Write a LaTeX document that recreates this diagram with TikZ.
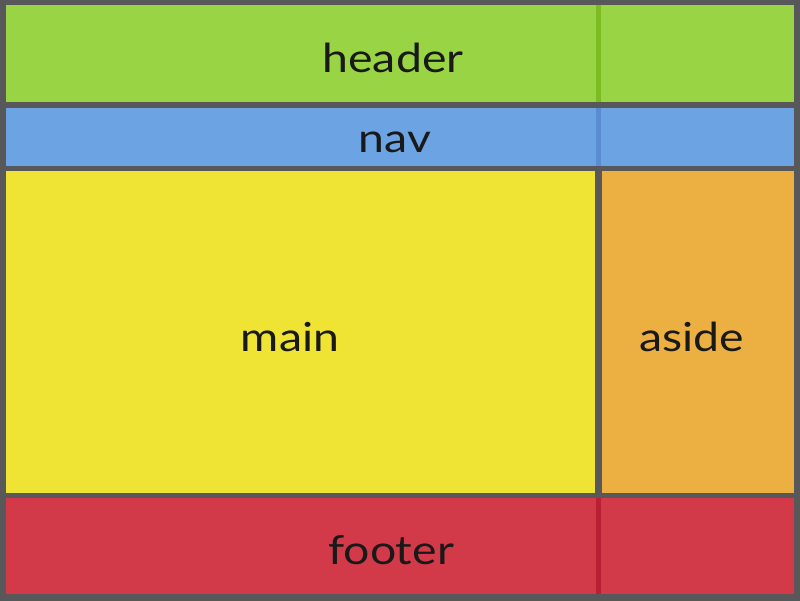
\documentclass[tikz,border=0pt]{standalone}
\usepackage{fontspec}
\setmainfont{Lato}
\definecolor{gridgrey}{HTML}{58585A}
\definecolor{headgreen}{HTML}{98D443}
\definecolor{headline}{HTML}{7CBB22}
\definecolor{navblue}{HTML}{6CA3E3}
\definecolor{navline}{HTML}{5A8CD2}
\definecolor{mainyellow}{HTML}{EFE434}
\definecolor{asideorange}{HTML}{ECB042}
\definecolor{footred}{HTML}{D23A4A}
\definecolor{footline}{HTML}{BA2033}
\tikzset{
  area/.style={draw=none},
  label/.style={font=\fontsize{40}{48}\selectfont, text=black!90, inner sep=0pt, xscale=1.16}
}
\begin{document}
\begin{tikzpicture}[x=1pt, y=-1pt]
  % outer frame
  \filldraw[fill=gridgrey, draw=none] (0,0) rectangle (800,601);
  % grid areas
  \filldraw[area, fill=headgreen] (6,5) rectangle (794,102);
  \filldraw[area, fill=headline] (596,5) rectangle (601,102);
  \filldraw[area, fill=navblue] (6,108) rectangle (794,166);
  \filldraw[area, fill=navline] (596,108) rectangle (601,166);
  \filldraw[area, fill=mainyellow] (6,171) rectangle (595,493);
  \filldraw[area, fill=asideorange] (602,171) rectangle (794,493);
  \filldraw[area, fill=footred] (6,498) rectangle (794,594);
  \filldraw[area, fill=footline] (596,498) rectangle (601,594);
  % labels
  \node[label] (header) at (393,58) {header};
  \node[label] (nav) at (395,142) {nav};
  \node[label] (main) at (290,337) {main};
  \node[label] (aside) at (692,337) {aside};
  \node[label] (footer) at (391,550) {footer};
\end{tikzpicture}
\end{document}
